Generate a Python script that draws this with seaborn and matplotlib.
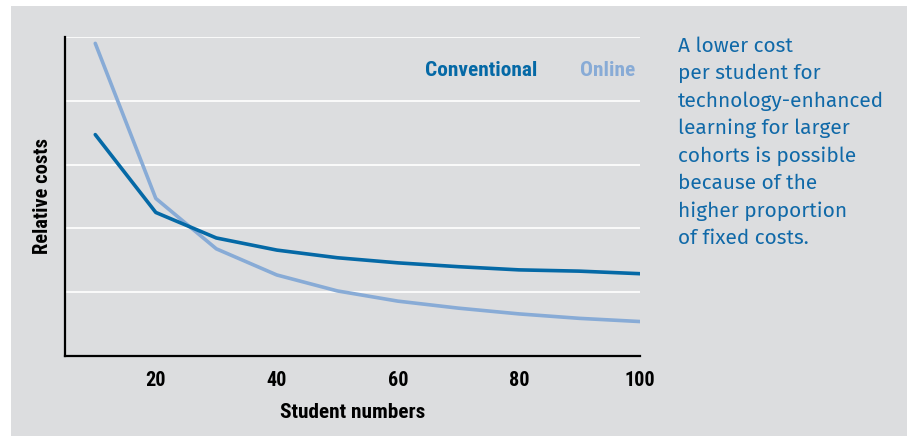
import matplotlib
matplotlib.use("Agg")
import matplotlib.pyplot as plt
from matplotlib import font_manager
import seaborn as sns
import pandas as pd
from matplotlib.patches import Rectangle

# ---- data ----
students = [10, 20, 30, 40, 50, 60, 70, 80, 90, 100]
conventional = [3.47, 2.25, 1.85, 1.66, 1.54, 1.46, 1.40, 1.35, 1.33, 1.29]
online = [4.90, 2.47, 1.68, 1.27, 1.02, 0.86, 0.75, 0.66, 0.59, 0.54]
series_names = ["Conventional", "Online"]
x_ticks = [20, 40, 60, 80, 100]
note_text = ("A lower cost\nper student for\ntechnology-enhanced\nlearning for larger\n"
             "cohorts is possible\nbecause of the\nhigher proportion\nof fixed costs.")

df = pd.DataFrame({
    "Student numbers": students * 2,
    "Relative costs": conventional + online,
    "Series": [series_names[0]] * len(students) + [series_names[1]] * len(students),
})

sns.set_theme(style="white")
names = {f.name for f in font_manager.fontManager.ttflist}
def pick(cands):
    for c in cands:
        if c in names:
            return c
    return "DejaVu Sans"
narrow = pick(["Roboto Condensed", "Archivo Narrow", "PT Sans Narrow"])
body = pick(["Fira Sans", "Lato"])
plt.rcParams["font.family"] = [narrow, "DejaVu Sans"]

BG = "#dcdddf"
DARK = "#0569a6"
LIGHT = "#88abd6"
NOTE = "#1069a8"

fig = plt.figure(figsize=(9.07, 4.36), dpi=100, facecolor="white")
fig.patches.append(Rectangle((11 / 907, 0), 1 - 11 / 907, 1 - 6 / 436,
                             transform=fig.transFigure, facecolor=BG,
                             edgecolor="none", zorder=-10))
ax = fig.add_axes([65 / 907, 1 - 356 / 436, (640 - 65) / 907, (356 - 37) / 436])
ax.set_facecolor("none")

for y in [1, 2, 3, 4, 5]:
    ax.axhline(y, color="white", lw=1.2, zorder=0)

sns.lineplot(data=df, x="Student numbers", y="Relative costs", hue="Series",
             palette={series_names[0]: DARK, series_names[1]: LIGHT},
             hue_order=[series_names[1], series_names[0]],
             linewidth=2.6, ax=ax, legend=False, zorder=3)

ax.set_xlim(5, 100)
ax.set_ylim(0, 5)
ax.set_xticks(x_ticks)
ax.set_xticklabels([str(t) for t in x_ticks], fontsize=14.5, fontweight="bold")
ax.set_yticks([])
ax.tick_params(axis="x", direction="in", length=3, width=1.5, color="black", pad=11,
               labelcolor="black")
for s in ["top", "right"]:
    ax.spines[s].set_visible(False)
for s in ["left", "bottom"]:
    ax.spines[s].set_color("black")
    ax.spines[s].set_linewidth(1.6)

ax.set_xlabel("Student numbers", fontsize=15.3, fontweight="bold", labelpad=9, color="black")
ax.set_ylabel("Relative costs", fontsize=14.8, fontweight="bold", labelpad=9, color="black")

ax.text(0.821, 0.895, series_names[0], transform=ax.transAxes, ha="right", va="center",
        fontsize=15.4, fontweight="bold", color=DARK)
ax.text(0.991, 0.895, series_names[1], transform=ax.transAxes, ha="right", va="center",
        fontsize=15.4, fontweight="bold", color=LIGHT)

fig.text(678 / 907, 1 - 36 / 436, note_text, ha="left", va="top", fontsize=15,
         family=[body, "DejaVu Sans"], color=NOTE, linespacing=1.51)

fig.savefig("out.png", dpi=100, facecolor="white")
